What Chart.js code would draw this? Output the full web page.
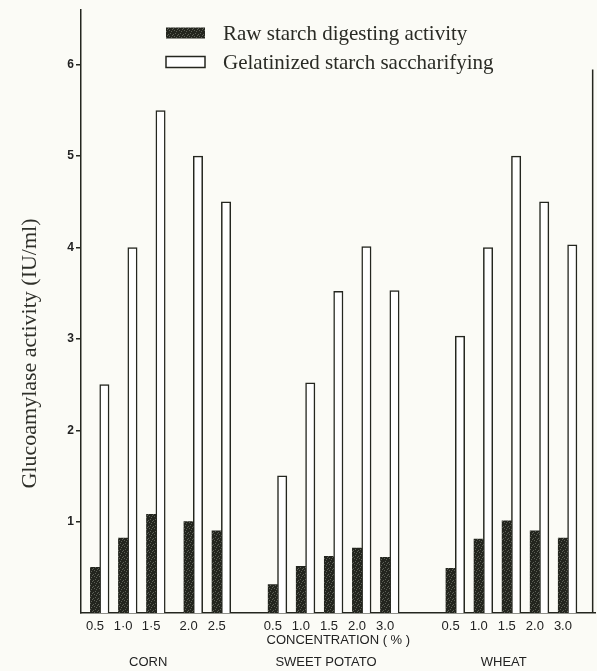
<!DOCTYPE html>
<html>
<head>
<meta charset="utf-8">
<script src="https://cdn.jsdelivr.net/npm/chart.js@4.4.1/dist/chart.umd.min.js"></script>
<style>
  html, body { margin: 0; padding: 0; background: #fbfbf6; }
  #wrap { position: relative; width: 597px; height: 671px; }
</style>
</head>
<body>
<div id="wrap"><canvas id="c"></canvas></div>
<script>
// ---------------- data ----------------
const groupNames   = ['CORN', 'SWEET POTATO', 'WHEAT'];
const cornConc     = ['0.5', '1·0', '1·5', '2.0', '2.5'];
const potatoConc   = ['0.5', '1.0', '1.5', '2.0', '3.0'];
const wheatConc    = ['0.5', '1.0', '1.5', '2.0', '3.0'];
const cornRaw      = [0.50, 0.82, 1.08, 1.00, 0.90];
const cornGel      = [2.50, 4.00, 5.50, 5.00, 4.50];
const potatoRaw    = [0.31, 0.51, 0.62, 0.71, 0.61];
const potatoGel    = [1.50, 2.52, 3.52, 4.01, 3.53];
const wheatRaw     = [0.49, 0.81, 1.01, 0.90, 0.82];
const wheatGel     = [3.03, 4.00, 5.00, 4.50, 4.03];
const yTicks       = [1, 2, 3, 4, 5, 6];
const seriesNames  = ['Raw starch digesting activity', 'Gelatinized starch saccharifying'];
const xTitle       = 'CONCENTRATION ( % )';
const yTitle       = 'Glucoamylase activity (IU/ml)';

// ---------------- slot layout (one category slot per bar) ----------------
const LEAD_BLANK = 1, PAIR_BLANK = 1, TRAIL_BLANK = 2;
const GROUP_BLANK = [4, 5];          // blank slots between groups
const EXTRA_BLANK = [[2], [], []];   // extra blank after pair i in group g

const groups = [
  { name: groupNames[0], conc: cornConc,   raw: cornRaw,   gel: cornGel },
  { name: groupNames[1], conc: potatoConc, raw: potatoRaw, gel: potatoGel },
  { name: groupNames[2], conc: wheatConc,  raw: wheatRaw,  gel: wheatGel }
];
const slotLabels = [], groupRow = [], rawSlots = [], gelSlots = [];
function blank(n) { for (let i = 0; i < n; i++) { slotLabels.push(''); groupRow.push(''); rawSlots.push(null); gelSlots.push(null); } }
blank(LEAD_BLANK);
groups.forEach((g, gi) => {
  const mid = Math.floor(g.conc.length / 2);
  g.conc.forEach((c, i) => {
    slotLabels.push(c); groupRow.push(i === mid ? g.name : ''); rawSlots.push(g.raw[i]); gelSlots.push(null);
    slotLabels.push(''); groupRow.push(''); rawSlots.push(null); gelSlots.push(g.gel[i]);
    if (i < g.conc.length - 1) blank(PAIR_BLANK + (EXTRA_BLANK[gi].includes(i) ? 1 : 0));
  });
  if (gi < groups.length - 1) blank(GROUP_BLANK[gi]);
});
blank(TRAIL_BLANK);

// ---------------- styles ----------------
const INK = '#24261f';
function speckle() {
  const c = document.createElement('canvas'); c.width = 5; c.height = 6;
  const g = c.getContext('2d');
  g.fillStyle = '#23251e'; g.fillRect(0, 0, 5, 6);
  g.fillStyle = '#5d6057';
  [[1, 1], [3, 4], [4, 0], [0, 3], [2, 5]].forEach(([x, y]) => g.fillRect(x, y, 1, 1));
  return g.createPattern(c, 'repeat');
}
const darkFill = speckle();

const overlay = {
  id: 'overlay',
  afterDraw(chart) {
    const { ctx, chartArea: a, scales } = chart;
    ctx.save();
    // right edge line
    ctx.strokeStyle = INK; ctx.lineWidth = 1.5;
    ctx.beginPath();
    ctx.moveTo(a.right - 3, scales.y.getPixelForValue(5.95));
    ctx.lineTo(a.right - 3, a.bottom);
    ctx.stroke();
    // legend
    const lx = a.left + 85, boxW = 39, boxH = 11;
    ctx.font = '21px "Liberation Serif", "Times New Roman", serif';
    ctx.textBaseline = 'middle';
    chart.data.datasets.forEach((ds, i) => {
      const cy = a.top + 23 + i * 29;
      if (i === 0) { ctx.fillStyle = ds.backgroundColor; ctx.fillRect(lx, cy - boxH / 2, boxW, boxH); }
      else {
        ctx.fillStyle = '#ffffff'; ctx.fillRect(lx, cy - boxH / 2, boxW, boxH);
        ctx.strokeStyle = INK; ctx.lineWidth = 1.5; ctx.strokeRect(lx, cy - boxH / 2, boxW, boxH);
      }
      ctx.fillStyle = '#2a2b25';
      ctx.fillText(ds.label, lx + boxW + 18, cy + 1);
    });
    // y axis title
    ctx.translate(30, (a.top + a.bottom) / 2 + 42);
    ctx.rotate(-Math.PI / 2);
    ctx.textAlign = 'center';
    ctx.font = '22px "Liberation Serif", "Times New Roman", serif';
    ctx.fillStyle = '#2e2f29';
    ctx.fillText(yTitle, 0, 0);
    ctx.restore();
  }
};

new Chart(document.getElementById('c'), {
  type: 'bar',
  data: {
    labels: slotLabels,
    datasets: [
      { label: seriesNames[0], data: rawSlots, backgroundColor: darkFill, borderWidth: 0,
        grouped: false, barPercentage: 1, categoryPercentage: 1 },
      { label: seriesNames[1], data: gelSlots, backgroundColor: '#ffffff', borderColor: INK,
        borderWidth: 1.5, borderSkipped: 'bottom', grouped: false, barPercentage: 1, categoryPercentage: 1 }
    ]
  },
  options: {
    responsive: true,
    maintainAspectRatio: false,
    animation: false,
    layout: { padding: { top: 10, left: 0, right: 0, bottom: 0 } },
    plugins: { legend: { display: false }, tooltip: { enabled: false } },
    scales: {
      x: {
        offset: true, weight: 0,
        grid: { display: false, drawTicks: false },
        border: { display: true, color: INK, width: 1.5 },
        ticks: { autoSkip: false, maxRotation: 0, minRotation: 0, padding: 6, color: '#222',
                 font: { family: '"Liberation Sans", Arial, sans-serif', size: 13 } },
        title: { display: true, text: xTitle, color: '#222', padding: { top: 0, bottom: 1 },
                 font: { family: '"Liberation Sans", Arial, sans-serif', size: 13 } },
        afterFit: s => { s.height = 36; }
      },
      x2: {
        type: 'category', labels: groupRow, position: 'bottom', offset: true, weight: 1,
        grid: { display: false, drawTicks: false },
        border: { display: false },
        ticks: { autoSkip: false, maxRotation: 0, minRotation: 0, padding: 6, labelOffset: -3, color: '#222',
                 font: { family: '"Liberation Sans", Arial, sans-serif', size: 13 } },
        afterFit: s => { s.height = 22; }
      },
      y: {
        min: 0, max: 6.6,
        afterFit: s => { s.width = 81; },
        afterBuildTicks: s => { s.ticks = yTicks.map(v => ({ value: v })); },
        grid: { drawOnChartArea: false, drawTicks: true, tickLength: 5, color: INK, lineWidth: 1.5 },
        border: { display: true, color: INK, width: 1.5 },
        ticks: { padding: 2, color: '#222',
                 font: { family: '"Liberation Sans", Arial, sans-serif', size: 12, weight: 'bold' } }
      }
    }
  },
  plugins: [overlay]
});
</script>
</body>
</html>
